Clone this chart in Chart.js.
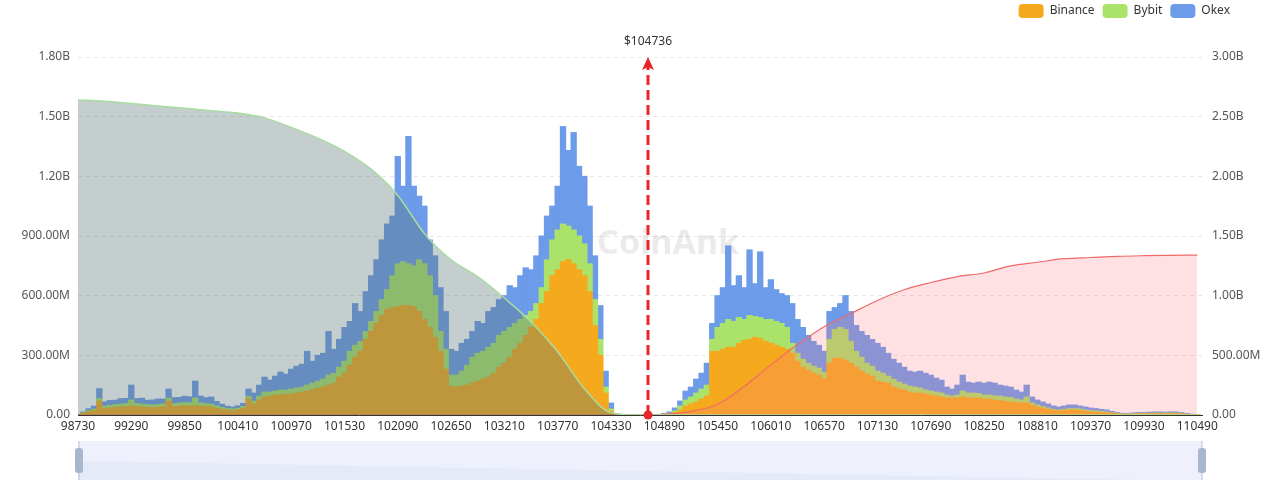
<!DOCTYPE html>
<html>
<head>
<meta charset="utf-8">
<script src="https://cdn.jsdelivr.net/npm/chart.js@4.4.1/dist/chart.umd.min.js"></script>
<style>
  html, body { margin: 0; padding: 0; background: #fff; }
  #wrap { width: 1280px; height: 484px; }
</style>
</head>
<body>
<div id="wrap"><canvas id="liqChart" width="1280" height="484"></canvas></div>
<script>
// price grid: one bin every 56 USD from 98730, cumulative lines every 280 USD
const priceStart = 98730;
const priceStep = 56;
const lineStep = 280;
const currentPrice = 104736;

const tickLabels = [98730, 99290, 99850, 100410, 100970, 101530, 102090, 102650, 103210, 103770, 104330,
  104890, 105450, 106010, 106570, 107130, 107690, 108250, 108810, 109370, 109930, 110490];

// liquidation volume per price bin, millions USD
const binance = [
  2, 8, 15, 22, 70, 32, 35, 38, 40, 42,
  45, 42, 40, 38, 37, 38, 40, 70, 42, 44,
  46, 45, 45, 44, 42, 40, 34, 28, 24, 22,
  26, 32, 80, 55, 75, 90, 95, 100, 100, 105,
  105, 110, 115, 120, 125, 135, 140, 150, 160, 190,
  210, 250, 290, 320, 380, 420, 460, 500, 530, 540,
  545, 550, 550, 545, 520, 480, 440, 390, 320, 230,
  145, 140, 145, 150, 160, 170, 180, 190, 210, 240,
  260, 290, 330, 360, 400, 440, 480, 560, 620, 700,
  730, 770, 780, 760, 730, 700, 620, 450, 300, 110,
  20, 1, 0, 0, 0, 0, 0, 0, 0, 0,
  2, 5, 12, 25, 45, 55, 65, 80, 95, 320,
  320, 330, 340, 340, 360, 375, 380, 390, 385, 370,
  360, 350, 340, 330, 310, 270, 240, 225, 210, 200,
  180, 260, 285, 285, 275, 260, 240, 220, 205, 195,
  170, 165, 160, 140, 130, 125, 115, 110, 110, 105,
  100, 95, 90, 85, 85, 85, 90, 85, 85, 85,
  80, 80, 75, 72, 68, 65, 62, 60, 60, 50,
  40, 35, 28, 22, 20, 22, 25, 25, 22, 18,
  15, 14, 12, 10, 8, 5, 3, 3, 4, 5,
  5, 6, 6, 6, 6, 7, 6, 5, 3, 1,
  0
];
const bybit = [
  1, 3, 6, 8, 12, 12, 13, 14, 14, 15,
  30, 15, 14, 14, 13, 14, 15, 14, 15, 16,
  16, 16, 40, 16, 15, 14, 12, 10, 8, 8,
  8, 10, 14, 15, 20, 25, 20, 20, 25, 20,
  25, 25, 25, 30, 35, 35, 40, 50, 50, 50,
  60, 70, 60, 50, 40, 50, 60, 80, 100, 160,
  215, 220, 210, 205, 260, 280, 260, 210, 100, 100,
  55, 60, 75, 100, 130, 140, 140, 150, 150, 160,
  160, 150, 130, 120, 100, 80, 80, 80, 160, 180,
  200, 190, 170, 170, 170, 160, 140, 130, 80, 30,
  10, 1, 0, 0, 0, 0, 0, 0, 0, 0,
  2, 3, 8, 20, 30, 35, 45, 50, 55, 60,
  120, 130, 140, 130, 130, 105, 120, 105, 105, 110,
  120, 120, 120, 110, 50, 40, 40, 35, 35, 35,
  35, 120, 145, 155, 155, 110, 80, 70, 55, 50,
  50, 45, 35, 40, 35, 30, 30, 30, 25, 20,
  20, 20, 20, 15, 10, 15, 30, 25, 25, 23,
  20, 20, 20, 23, 22, 23, 18, 15, 30, 10,
  10, 7, 7, 6, 5, 6, 7, 7, 8, 7,
  7, 6, 6, 5, 3, 3, 2, 2, 2, 2,
  2, 2, 3, 3, 3, 3, 3, 2, 2, 1,
  1
];
const okex = [
  1, 4, 10, 14, 50, 22, 25, 22, 28, 26,
  75, 25, 30, 22, 25, 28, 25, 46, 30, 28,
  32, 30, 85, 35, 30, 36, 22, 16, 12, 10,
  12, 16, 36, 40, 55, 75, 60, 75, 90, 80,
  100, 110, 115, 170, 110, 130, 130, 220, 120, 140,
  170, 150, 210, 150, 200, 230, 260, 300, 330, 300,
  540, 380, 640, 400, 320, 290, 180, 200, 220, 190,
  130, 120, 140, 130, 130, 160, 140, 180, 180, 180,
  180, 210, 180, 220, 240, 210, 240, 260, 220, 170,
  220, 490, 380, 490, 350, 340, 290, 220, 170, 80,
  30, 3, 0, 0, 0, 0, 0, 0, 0, 0,
  4, 7, 15, 25, 45, 50, 70, 80, 110, 80,
  160, 180, 370, 180, 210, 160, 330, 165, 330, 160,
  200, 160, 150, 160, 200, 170, 160, 140, 125, 115,
  105, 140, 110, 120, 170, 150, 130, 130, 140, 135,
  140, 130, 115, 100, 95, 85, 75, 75, 85, 85,
  80, 70, 65, 40, 35, 50, 80, 55, 50, 57,
  60, 65, 65, 55, 55, 52, 45, 40, 60, 30,
  25, 23, 20, 17, 15, 17, 18, 18, 15, 15,
  13, 12, 10, 10, 7, 4, 3, 3, 4, 5,
  5, 6, 6, 6, 5, 6, 6, 5, 3, 2,
  0
];

// cumulative liquidation, billions USD (right axis)
const longCumulative = [
  2.64, 2.63, 2.61, 2.59, 2.57, 2.55, 2.53, 2.49, 2.41, 2.32,
  2.21, 2.06, 1.84, 1.52, 1.30, 1.16, 0.98, 0.78, 0.53, 0.22,
  0.02, 0, 0, 0, 0, 0, 0, 0, 0, 0,
  0, 0, 0, 0, 0, 0, 0, 0, 0, 0,
  0, 0, 0
];
const shortCumulative = [
  0, 0, 0, 0, 0, 0, 0, 0, 0, 0,
  0, 0, 0, 0, 0, 0, 0, 0, 0, 0,
  0, 0, 0.005, 0.03, 0.09, 0.24, 0.42, 0.59, 0.74, 0.85,
  0.96, 1.05, 1.11, 1.16, 1.19, 1.25, 1.28, 1.31, 1.32, 1.33,
  1.335, 1.338, 1.34
];

const binPrices = binance.map((_, i) => priceStart + i * priceStep);
const linePrices = longCumulative.map((_, i) => priceStart + i * lineStep);
const barPoints = (arr) => arr.map((v, i) => ({ x: binPrices[i], y: v * 1e6 }));
const linePoints = (arr) => arr.map((v, i) => ({ x: linePrices[i], y: v * 1e9 }));

function fmtAmount(v) {
  if (v === 0) return "0.00";
  if (v >= 1e9) return (v / 1e9).toFixed(2) + "B";
  return (v / 1e6).toFixed(2) + "M";
}

Chart.defaults.font.family = "'Noto Sans', sans-serif";
Chart.defaults.font.size = 12;

// legend sits in the top right, plot starts at y=57
const legendPlacer = {
  id: "legendPlacer",
  beforeInit(chart) {
    const fit = chart.legend.fit;
    chart.legend.fit = function () { fit.call(this); this.height = 57; };
  },
  afterLayout(chart) {
    chart.legend.right = 1238;
    chart.legend.top = -4;
  },
};

const watermark = {
  id: "watermark",
  beforeDatasetsDraw(chart) {
    const { ctx, chartArea } = chart;
    ctx.save();
    ctx.font = "bold 34px 'Noto Sans', sans-serif";
    ctx.fillStyle = "rgba(0,0,0,0.08)";
    ctx.textAlign = "center";
    ctx.textBaseline = "middle";
    ctx.fillText("CoinAnk", chartArea.left + chartArea.width * 0.525, chartArea.top + 187);
    ctx.restore();
  },
};

// red dashed marker for current price
const priceMarker = {
  id: "priceMarker",
  afterDatasetsDraw(chart) {
    const { ctx, chartArea, scales } = chart;
    const x = Math.round(scales.x.getPixelForValue(currentPrice)) - 2;
    const top = chartArea.top;
    const bottom = chartArea.bottom;
    ctx.save();
    ctx.strokeStyle = "#e8262a";
    ctx.fillStyle = "#e8262a";
    ctx.lineWidth = 3;
    ctx.setLineDash([10, 5]);
    ctx.beginPath();
    ctx.moveTo(x, bottom);
    ctx.lineTo(x, top + 10);
    ctx.stroke();
    ctx.setLineDash([]);
    ctx.beginPath();
    ctx.moveTo(x, top);
    ctx.lineTo(x + 6, top + 13);
    ctx.lineTo(x, top + 10);
    ctx.lineTo(x - 6, top + 13);
    ctx.closePath();
    ctx.fill();
    ctx.beginPath();
    ctx.arc(x, bottom, 4.5, 0, Math.PI * 2);
    ctx.fill();
    ctx.fillStyle = "#333";
    ctx.font = "12px 'Noto Sans', sans-serif";
    ctx.textAlign = "center";
    ctx.textBaseline = "middle";
    ctx.fillText("$" + currentPrice, x, top - 15);
    ctx.restore();
  },
};

// zoom slider strip under the x axis
const sliderStrip = {
  id: "sliderStrip",
  afterDraw(chart) {
    const { ctx, chartArea } = chart;
    const l = chartArea.left, r = chartArea.right;
    const y0 = 441, y1 = 480;
    ctx.save();
    ctx.fillStyle = "#eef0fb";
    ctx.fillRect(l, y0, r - l, y1 - y0);
    ctx.fillStyle = "rgba(205,214,242,0.25)";
    ctx.beginPath();
    ctx.moveTo(l, 461);
    ctx.lineTo(r - 60, y1);
    ctx.lineTo(l, y1);
    ctx.closePath();
    ctx.fill();
    [l + 1, r].forEach((hx) => {
      ctx.strokeStyle = "#b8c3d6";
      ctx.lineWidth = 1;
      ctx.beginPath();
      ctx.moveTo(hx, y0);
      ctx.lineTo(hx, y1);
      ctx.stroke();
      ctx.fillStyle = "#a9b6cc";
      ctx.beginPath();
      ctx.roundRect(hx - 4, 448, 8, 25, 3);
      ctx.fill();
    });
    ctx.restore();
  },
};

const ctx = document.getElementById("liqChart").getContext("2d");
const liqChart = new Chart(ctx, {
  type: "bar",
  data: {
    datasets: [
      { label: "Binance", data: barPoints(binance), backgroundColor: "#f5aa1e", order: 2 },
      { label: "Bybit", data: barPoints(bybit), backgroundColor: "#aae26a", order: 2 },
      { label: "Okex", data: barPoints(okex), backgroundColor: "#6c9be9", order: 2 },
      {
        type: "line", label: "Long cumulative", yAxisID: "y1", data: linePoints(longCumulative),
        borderColor: "#a9dca0", borderWidth: 1.5, backgroundColor: "rgba(89,115,115,0.35)",
        fill: "origin", pointRadius: 0, cubicInterpolationMode: "monotone", order: 1,
      },
      {
        type: "line", label: "Short cumulative", yAxisID: "y1", data: linePoints(shortCumulative),
        borderColor: "#f06a6a", borderWidth: 1.2, backgroundColor: "rgba(255,120,130,0.22)",
        fill: "origin", pointRadius: 0, cubicInterpolationMode: "monotone", order: 1,
      },
    ],
  },
  options: {
    responsive: false,
    animation: false,
    layout: { padding: 0 },
    datasets: { bar: { barPercentage: 1, categoryPercentage: 1, borderWidth: 0, inflateAmount: 0.5 } },
    plugins: {
      tooltip: { enabled: false },
      legend: {
        position: "top",
        align: "end",
        labels: {
          boxWidth: 25,
          boxHeight: 14,
          padding: 8,
          useBorderRadius: true,
          borderRadius: 4,
          color: "#333",
          filter: (item) => item.datasetIndex < 3,
        },
      },
    },
    scales: {
      x: {
        type: "linear",
        stacked: true,
        offset: false,
        min: 98730,
        max: 110540,
        grid: { display: false, drawTicks: false },
        border: { color: "#333" },
        ticks: { color: "#333", padding: 4, autoSkip: false, maxRotation: 0, callback: (v) => String(v) },
        afterBuildTicks: (scale) => { scale.ticks = tickLabels.map((v) => ({ value: v })); },
        afterFit: (scale) => { scale.height = 69; },
      },
      y: {
        stacked: true,
        min: 0,
        max: 1.8e9,
        grid: { color: "#e6e6e6", drawTicks: false },
        border: { display: false, dash: [4, 4] },
        ticks: { stepSize: 3e8, color: "#555", padding: 8, callback: fmtAmount },
        afterFit: (scale) => { scale.width = 78; },
      },
      y1: {
        position: "right",
        min: 0,
        max: 3e9,
        grid: { display: false, drawTicks: false },
        border: { display: false },
        ticks: { stepSize: 5e8, color: "#555", padding: 10, callback: fmtAmount },
        afterFit: (scale) => { scale.width = 78; },
      },
    },
  },
  plugins: [legendPlacer, watermark, priceMarker, sliderStrip],
});
</script>
</body>
</html>
